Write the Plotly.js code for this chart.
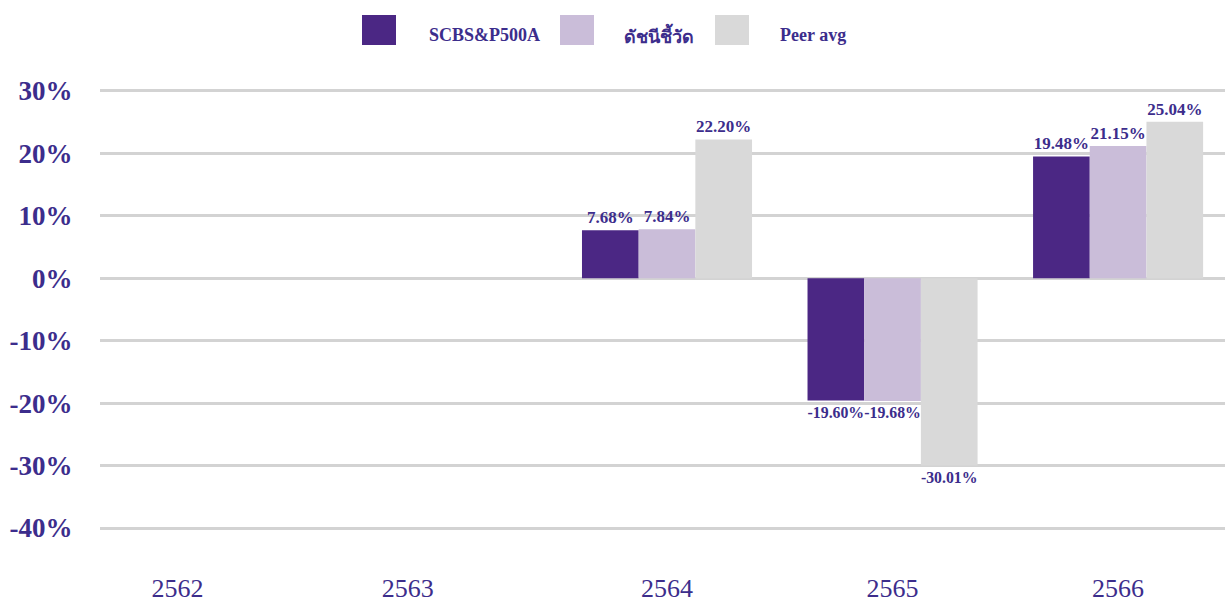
<!DOCTYPE html>
<html>
<head>
<meta charset="utf-8">
<script src="https://cdn.plot.ly/plotly-3.0.1.min.js"></script>
<style>
  html, body { margin: 0; padding: 0; background: #fff; }
  #chart { width: 1225px; height: 606px; }
</style>
</head>
<body>
<div id="chart"></div>
<script>
const years = ['2562', '2563', '2564', '2565', '2566'];
const seriesNames = ['SCBS&P500A', 'ดัชนีชี้วัด', 'Peer avg'];
const fundValues = [null, null, 7.68, -19.60, 19.48];
const benchmarkValues = [null, null, 7.84, -19.68, 21.15];
const peerValues = [null, null, 22.20, -30.01, 25.04];
const yTickValues = [30, 20, 10, 0, -10, -20, -30, -40];
const colors = ['#4B2784', '#CABDD9', '#D9D9D9'];

const textColor = '#3C2D8C';
const serif = '"Liberation Serif", "Times New Roman", "DejaVu Serif", serif';

const allValues = [fundValues, benchmarkValues, peerValues];
const traces = allValues.map((vals, i) => ({
  type: 'bar',
  name: seriesNames[i],
  x: years,
  y: vals,
  marker: { color: colors[i] },
  text: vals.map(v => v === null ? '' : v.toFixed(2) + '%'),
  textposition: 'outside',
  textfont: { family: serif, size: 17, color: textColor, weight: 'bold' },
  cliponaxis: false,
  hoverinfo: 'skip',
  showlegend: false
}));

// custom legend (big swatches like the reference)
const plotL = 100, plotW = 1125, plotT = 72, plotB = 553, plotH = plotB - plotT;
const px = x => (x - plotL) / plotW;
const py = y => (plotB - y) / plotH;
const swatchX = [362, 560, 715];
const labelX = [427, 622, 778];
const shapes = [];
const annotations = [];
seriesNames.forEach((name, i) => {
  shapes.push({
    type: 'rect', xref: 'paper', yref: 'paper',
    x0: px(swatchX[i]), x1: px(swatchX[i] + 34),
    y0: py(45), y1: py(15),
    fillcolor: colors[i], line: { width: 0 }
  });
  annotations.push({
    xref: 'paper', yref: 'paper',
    x: px(labelX[i]), y: py(35),
    xanchor: 'left', yanchor: 'middle',
    text: '<b>' + name.replace('&', '&amp;') + '</b>',
    showarrow: false,
    font: { family: serif, size: 18, color: textColor }
  });
});

// the reference places the first two year labels slightly left of their slots
const xTickPositions = [-0.17, 0.85, 2, 3, 4];

const layout = {
  width: 1225, height: 606,
  margin: { l: plotL, r: 0, t: plotT, b: 606 - plotB },
  paper_bgcolor: '#fff', plot_bgcolor: '#fff',
  barmode: 'group',
  bargap: 0.246,
  bargroupgap: 0,
  showlegend: false,
  hovermode: false,
  xaxis: {
    type: 'category',
    range: [-0.514, 4.474],
    tickmode: 'array',
    tickvals: xTickPositions,
    ticktext: years,
    showgrid: false, zeroline: false, showline: false,
    ticks: 'outside', ticklen: 12, tickcolor: 'rgba(0,0,0,0)',
    tickfont: { family: serif, size: 26, color: textColor }
  },
  yaxis: {
    range: [-44, 33],
    tickmode: 'array',
    tickvals: yTickValues,
    ticktext: yTickValues.map(v => String(v) + '%'),
    showgrid: true, gridcolor: '#D3D3D3', gridwidth: 3,
    zeroline: true, zerolinecolor: '#D3D3D3', zerolinewidth: 3,
    showline: false,
    ticks: 'outside', ticklen: 21, tickcolor: 'rgba(0,0,0,0)',
    tickfont: { family: serif, size: 27, color: textColor, weight: 'bold' }
  },
  shapes: shapes,
  annotations: annotations
};

Plotly.newPlot('chart', traces, layout, { displayModeBar: false, staticPlot: true });
</script>
</body>
</html>
